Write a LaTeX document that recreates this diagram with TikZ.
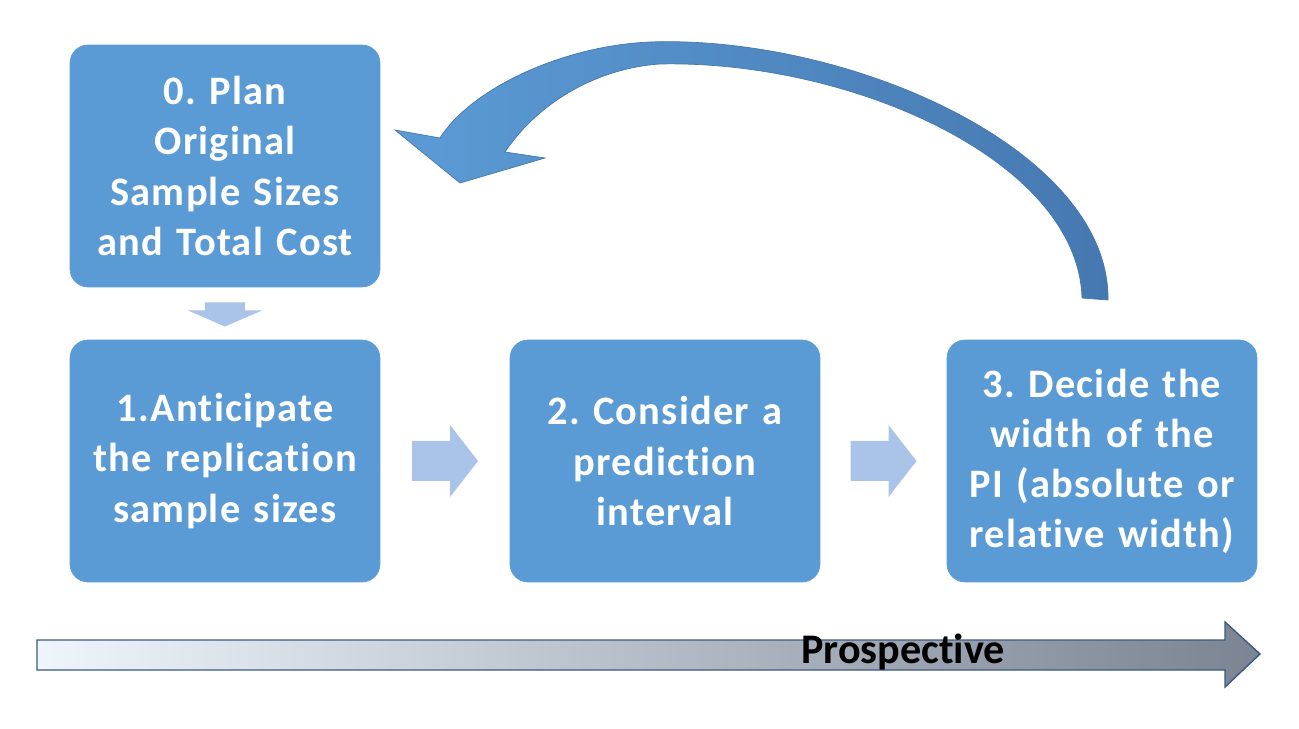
\documentclass[tikz,border=0pt]{standalone}
\usepackage{fontspec}
\setmainfont{Carlito}[Ligatures=NoCommon]
\newfontfamily\boxfont{Carlito}[LetterSpace=3, Ligatures=NoCommon]
\usetikzlibrary{calc}
\definecolor{boxblue}{RGB}{91,155,213}
\definecolor{lightarr}{RGB}{169,196,232}
\definecolor{darkarc}{RGB}{70,120,176}
\definecolor{barleft}{RGB}{238,245,252}
\definecolor{barmid}{RGB}{196,207,219}
\definecolor{barright}{RGB}{122,132,146}
\definecolor{barline}{RGB}{60,90,130}
\tikzset{
  stepbox/.style={fill=boxblue, draw=boxblue, rounded corners=0.36cm,
    minimum width=6.2cm, minimum height=4.84cm, text width=6.1cm, align=center,
    text=white, font=\boxfont\fontsize{23}{28.5}\selectfont\bfseries\frenchspacing, inner sep=0pt},
  smallarrow/.style={fill=lightarr, draw=none},
}
\begin{document}
\begin{tikzpicture}[x=0.02cm,y=-0.02cm]
\useasboundingbox (0,0) rectangle (1299,729);
\fill[white] (0,0) rectangle (1299,729);
% boxes
\node[stepbox] (b0) at (225,166) {0. Plan\\Original\\Sample Sizes\\and Total Cost};
\node[stepbox] (b1) at (225,461) {1.Anticipate\\the replication\\sample sizes};
\node[stepbox] (b2) at (665,461) {2. Consider a\\prediction\\interval};
\node[stepbox] (b3) at (1102,461) {3. Decide the\\width of the\\PI (absolute or\\relative width)};
% small arrows
\coordinate (m01) at ($(b0.south)!0.5!(b1.north)$);
\coordinate (m12) at ($(b1.east)!0.5!(b2.west)$);
\coordinate (m23) at ($(b2.east)!0.5!(b3.west)$);
\fill[smallarrow] ($(m01)+(-20,-11)$) -- ($(m01)+(20,-11)$) -- ($(m01)+(20,-3)$) -- ($(m01)+(37,-3)$)
  -- ($(m01)+(0,13)$) -- ($(m01)+(-37,-3)$) -- ($(m01)+(-20,-3)$) -- cycle;
\foreach \m in {m12,m23}{
\fill[smallarrow] ($(\m)+(-33,-20)$) -- ($(\m)+(5,-20)$) -- ($(\m)+(5,-36)$) -- ($(\m)+(33,0)$)
  -- ($(\m)+(5,36)$) -- ($(\m)+(5,20)$) -- ($(\m)+(-33,20)$) -- cycle;
}
% curved arrow from b3 back to b0
\coordinate (tailO) at (1108,300);
\coordinate (tailI) at (1082,298);
\path[left color=boxblue, right color=darkarc, draw=darkarc, line width=0.4pt]
  (tailO) .. controls (1110,150) and (850,35) .. (650,42)
  .. controls (560,46) and (470,90) .. (440,138)
  -- (395,130) -- (460,183) -- (545,158) -- (505,152)
  .. controls (540,100) and (600,68) .. (660,64)
  .. controls (850,60) and (1078,160) .. (tailI) -- cycle;
% bottom arrow
\path[left color=barleft, middle color=barmid, right color=barright, draw=barline, line width=0.8pt]
  (37,640) -- (1225,640) -- (1225,622) -- (1260,654) -- (1225,687) -- (1225,670) -- (37,670) -- cycle;
\node[font=\fontsize{24}{28}\selectfont\bfseries, text=black] (pros) at (903,652) {Prospective};
\end{tikzpicture}
\end{document}
